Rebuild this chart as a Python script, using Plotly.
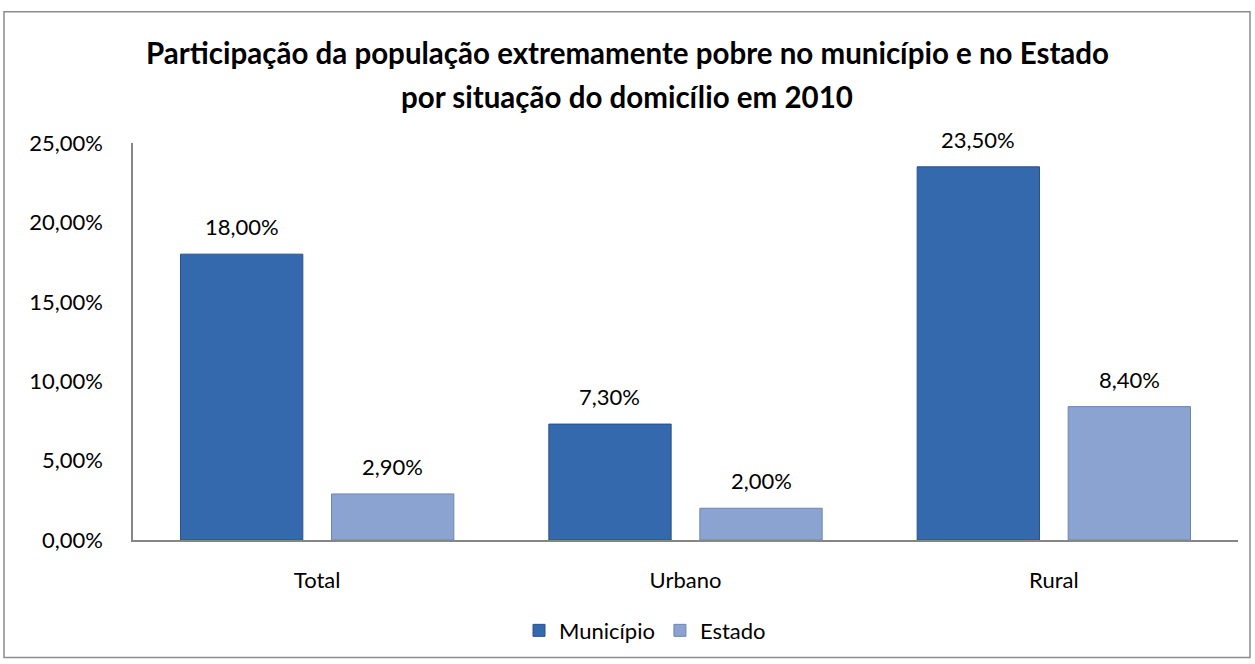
import plotly.graph_objects as go

categories = ["Total", "Urbano", "Rural"]
municipio = [18.0, 7.3, 23.5]
estado = [2.9, 2.0, 8.4]
series_names = ["Município", "Estado"]
title_lines = ["Participação da população extremamente pobre no município e no Estado",
               "por situação do domicílio em 2010"]
tick_vals = [0, 5, 10, 15, 20, 25]
tick_text = [f"{v:.2f}%".replace(".", ",") for v in tick_vals]

FONT = "Lato"
col_mun = "#3469AE"
col_est = "#8AA3D1"

fig = go.Figure()
fig.add_trace(go.Bar(x=categories, y=municipio, name=series_names[0],
                     marker=dict(color=col_mun, line=dict(color="#27528A", width=1))))
fig.add_trace(go.Bar(x=categories, y=estado, name=series_names[1],
                     marker=dict(color=col_est, line=dict(color="#6E86B4", width=1))))

L, R, T, B = 133, 17, 143, 122
W, H = 1255, 664
pw, ph = W - L - R, H - T - B
slot = pw / len(categories) * (1 - 0.18) / 2

annotations = []
for vals, sh in ((municipio, -slot / 2), (estado, slot / 2)):
    for c, v in zip(categories, vals):
        annotations.append(dict(x=c, y=v, xref="x", yref="y", xshift=sh, yshift=12,
                                text=f"{v:.2f}%".replace(".", ","), showarrow=False,
                                yanchor="bottom", font=dict(family=FONT, size=22, color="#000")))
for line, ypx in zip(title_lines, (52, 96)):
    annotations.append(dict(x=(627 - L) / pw, y=(H - B - ypx) / ph, xref="paper", yref="paper",
                            text="<b>" + line + "</b>", showarrow=False,
                            xanchor="center", yanchor="middle",
                            font=dict(family=FONT, size=29.5, color="#000")))

fig.update_layout(
    width=W, height=H,
    margin=dict(l=L, r=R, t=T, b=B),
    paper_bgcolor="white", plot_bgcolor="white",
    separators=",.",
    barmode="group", bargap=0.18, bargroupgap=0.19,
    font=dict(family=FONT, size=22, color="#000"),
    showlegend=True,
    legend=dict(orientation="h", x=(645 - L) / pw, xanchor="center",
                y=(H - B - 633) / ph, yanchor="middle",
                font=dict(family=FONT, size=22), itemwidth=30, traceorder="normal"),
    annotations=annotations,
    shapes=[dict(type="rect", xref="paper", yref="paper",
                 x0=(4 - L) / pw, x1=(1250 - L) / pw,
                 y0=(H - B - 660) / ph, y1=(H - B - 11) / ph,
                 line=dict(color="#8C8C8C", width=1.5), fillcolor="rgba(0,0,0,0)", layer="below")],
)
fig.update_yaxes(range=[0, 25], tickmode="array", tickvals=tick_vals, ticktext=tick_text,
                 showgrid=False, zeroline=False, showline=True, linecolor="#868686", linewidth=1.5,
                 ticks="", ticklabelstandoff=24, tickfont=dict(family=FONT, size=22))
fig.update_xaxes(showgrid=False, showline=True, linecolor="#868686", linewidth=1.5,
                 ticks="", ticklabelstandoff=20, tickfont=dict(family=FONT, size=22))

fig.write_html("out.html", config={"displayModeBar": False},
               post_script="document.body.style.margin='0';")
